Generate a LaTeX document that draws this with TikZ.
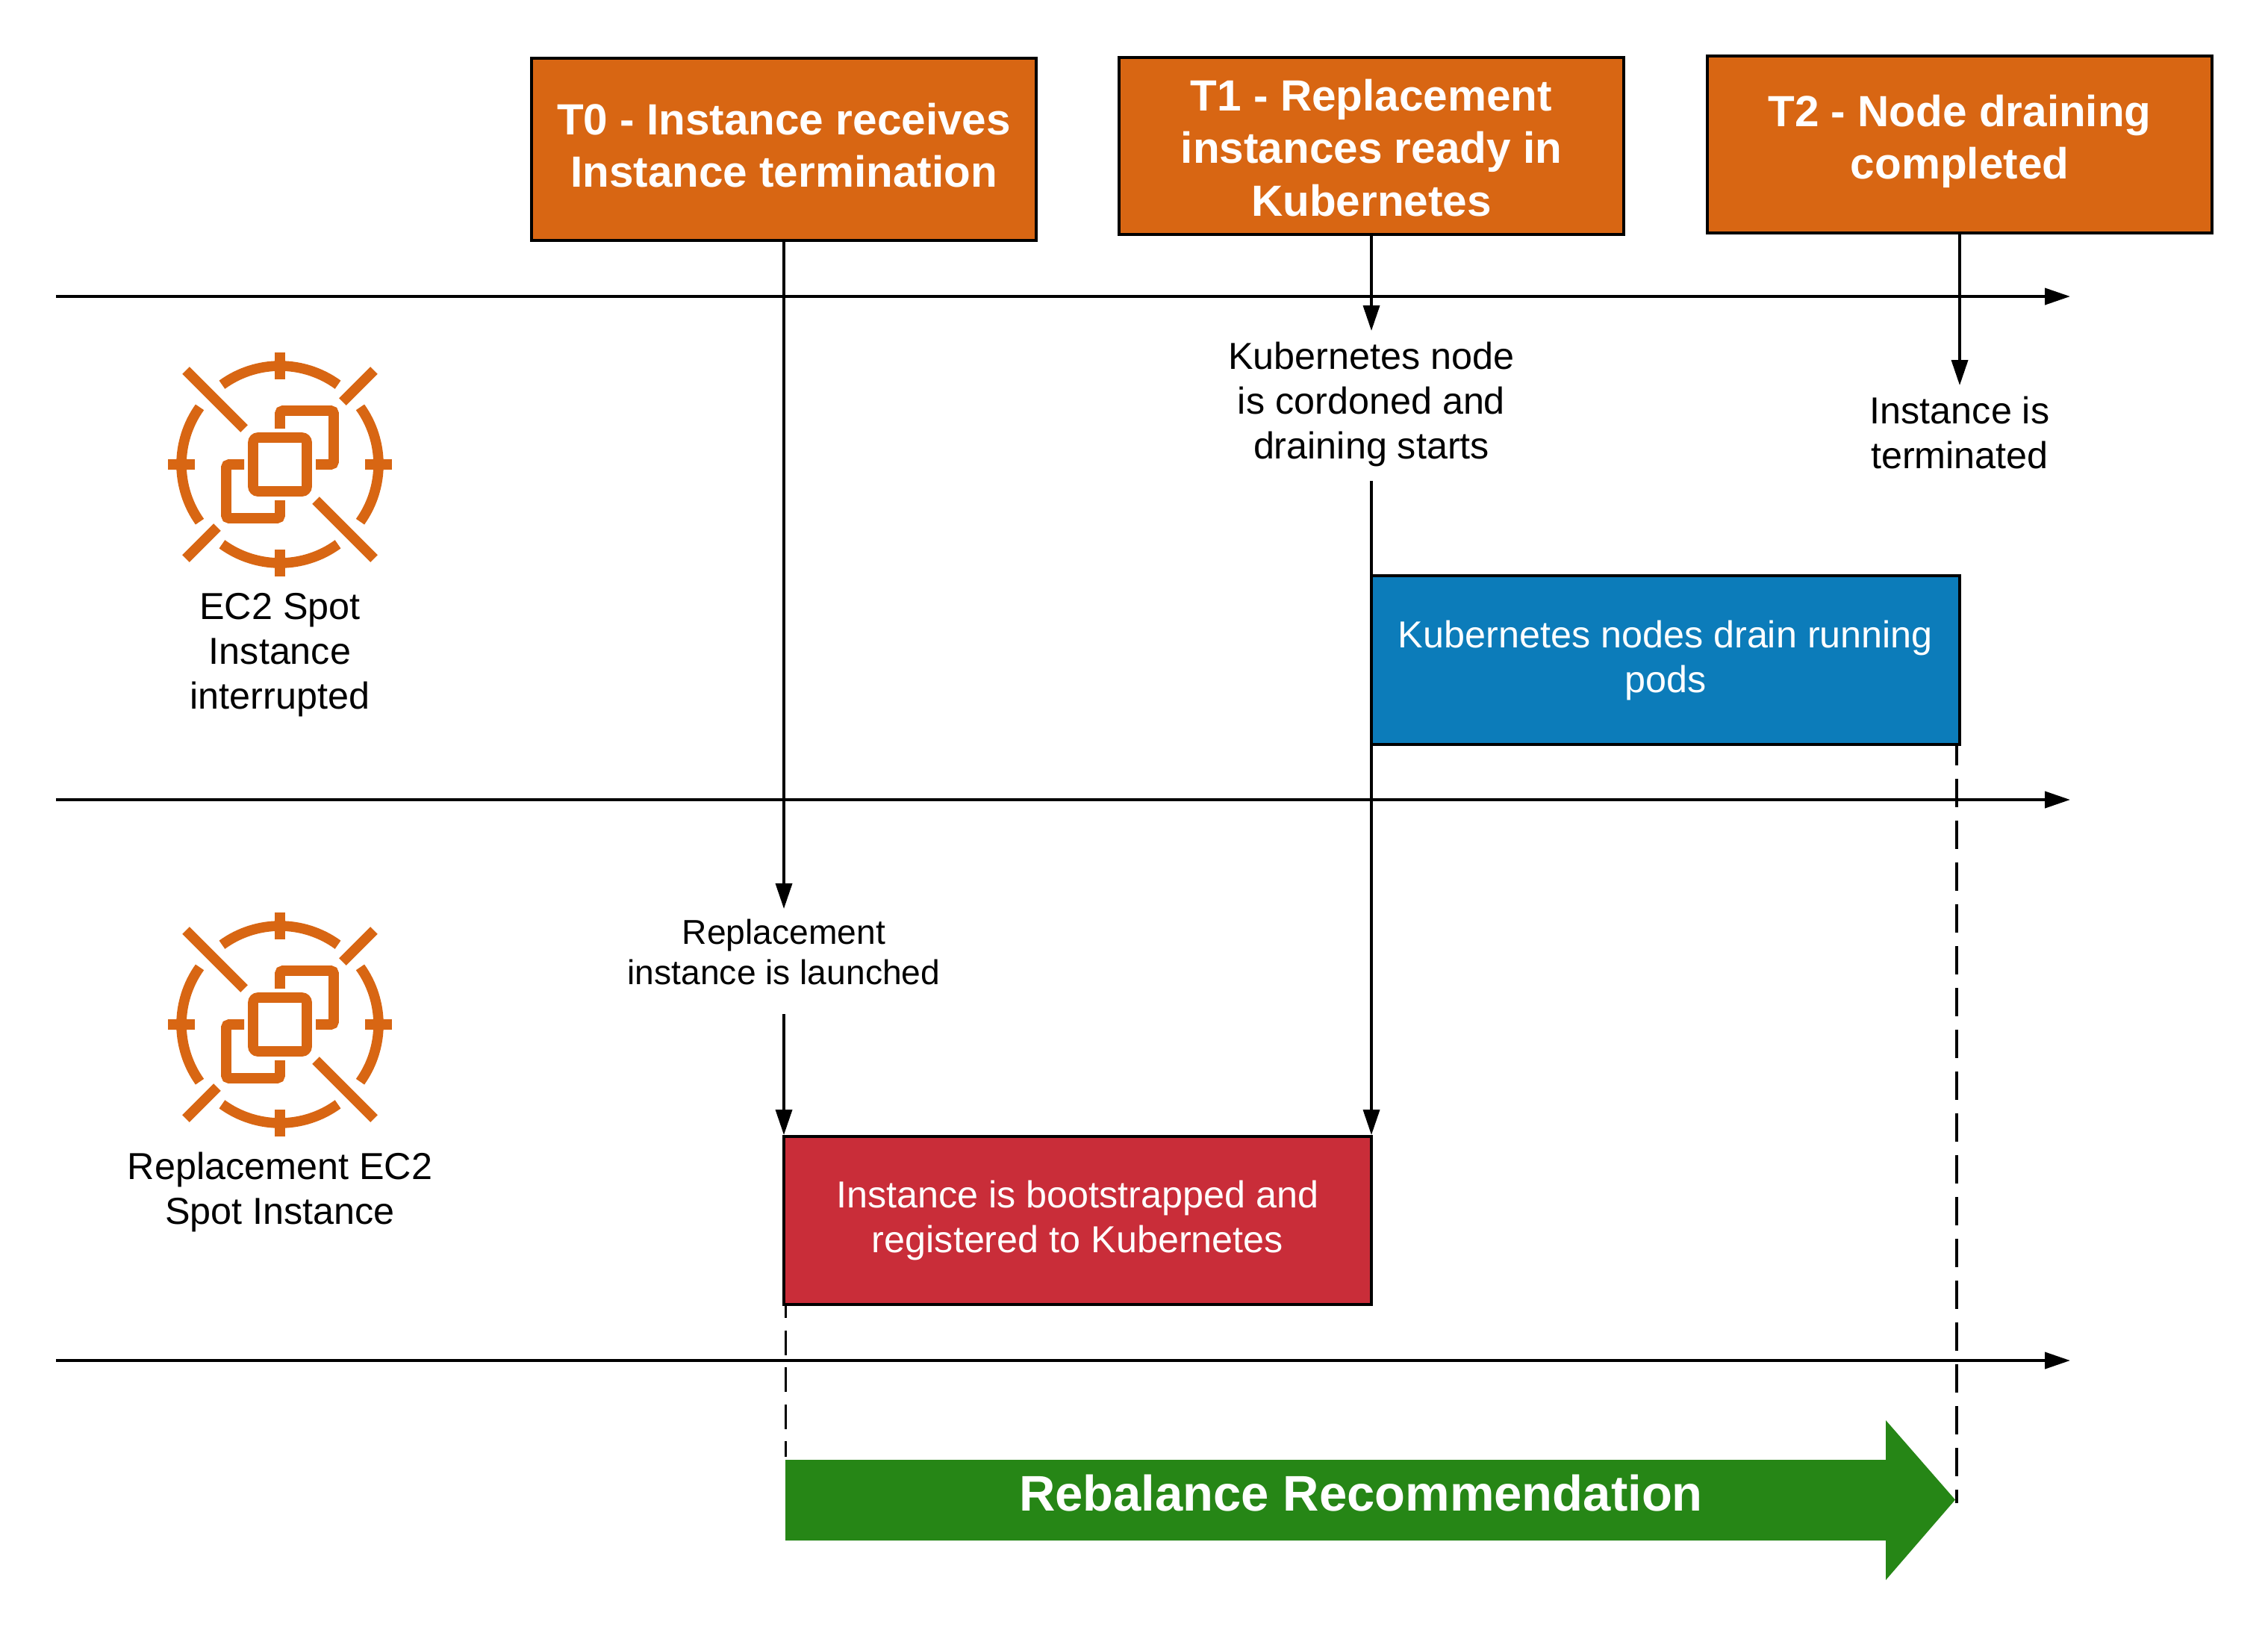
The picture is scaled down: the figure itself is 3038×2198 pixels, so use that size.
\documentclass[tikz,border=0pt]{standalone}
\usepackage{fontspec}
\setmainfont{Liberation Sans}
\usetikzlibrary{arrows.meta}
\definecolor{awsorange}{HTML}{D86613}
\definecolor{boxblue}{HTML}{0C7CBA}
\definecolor{boxred}{HTML}{C92D39}
\definecolor{boxgreen}{HTML}{268616}
\newcommand{\extradepth}[1]{\rule[-#1]{0pt}{0pt}}
\newcommand{\extraheight}[1]{\rule{0pt}{#1}}
\tikzset{
  x=0.25pt,y=-0.25pt,
  head/.style={draw=black,line width=1pt,fill=awsorange,text=white,inner sep=0pt,outer sep=0pt,align=center,
    minimum width=169pt,minimum height=61pt,font=\fontsize{14.62}{17.6}\selectfont\bfseries},
  phase/.style={draw=black,line width=1pt,text=white,inner sep=0pt,outer sep=0pt,align=center,
    font=\fontsize{12.58}{15}\selectfont},
  label/.style={inner sep=0pt,outer sep=0pt,align=center,font=\fontsize{12.58}{15}\selectfont},
  smalllabel/.style={inner sep=0pt,outer sep=0pt,align=center,font=\fontsize{11.55}{13.7}\selectfont},
  conn/.style={draw=black,line width=0.9pt},
  arr/.style={conn,-{Triangle[length=8.5pt,width=5.5pt]}},
  axisline/.style={draw=black,line width=1pt,-{Triangle[length=8.5pt,width=5.5pt]}},
  dashL/.style={draw=black,line width=0.75pt,dash pattern=on 8.25pt off 4.15pt},
  dashR/.style={draw=black,line width=1pt,dash pattern=on 9.5pt off 4.5pt},
  iconstroke/.style={draw=awsorange,line width=3.4pt},
  spot/.pic={
    \begin{scope}[x=0.25pt,y=0.25pt,iconstroke]
      \draw (126:132) arc[start angle=126,end angle=54,radius=132];
      \draw (-54:132) arc[start angle=-54,end angle=-126,radius=132];
      \draw (144.5:132) arc[start angle=144.5,end angle=215.5,radius=132];
      \draw (-35.5:132) arc[start angle=-35.5,end angle=35.5,radius=132];
      \draw (0,150) -- (0,114);
      \draw (0,-150) -- (0,-114);
      \draw (-150,0) -- (-114,0);
      \draw (150,0) -- (114,0);
      \draw (-126,126) -- (-48,48);
      \draw (126,-126) -- (48,-48);
      \draw (126,126) -- (84,84);
      \draw (-126,-126) -- (-84,-84);
      \draw[rounded corners=1.6pt] (-36,-36) rectangle (36,36);
      \draw[rounded corners=0.9pt] (0,48) -- (0,72) -- (72,72) -- (72,0) -- (48,0);
      \draw[rounded corners=0.9pt] (-48,0) -- (-72,0) -- (-72,-72) -- (0,-72) -- (0,-48);
    \end{scope}
  }
}
\begin{document}
\begin{tikzpicture}
\useasboundingbox (0,0) rectangle (3038,2198);
% coordinates for axis ends and free ends
\coordinate (a1s) at (75,397);  \coordinate (a1e) at (2773,397);
\coordinate (a2s) at (75,1071); \coordinate (a2e) at (2773,1071);
\coordinate (a3s) at (75,1822); \coordinate (a3e) at (2773,1822);
\coordinate (dl) at (1052.5,1951);
\coordinate (dr) at (2621,2013);
% header boxes
\node[head] (t0) at (1050,200) {T0 - Instance receives\\Instance termination\extradepth{3pt}};
\node[head,minimum height=59.25pt] (t1) at (1837,195.5) {\extraheight{11.7pt}T1 - Replacement\\instances ready in\\Kubernetes};
\node[head,minimum height=59.25pt] (t2) at (2625,193.5) {T2 - Node draining\\completed\extradepth{5pt}};
% phase boxes
\node[phase,fill=boxblue,minimum width=197pt,minimum height=56.5pt] (drain) at (2231,884) {Kubernetes nodes drain running\\pods};
\node[phase,fill=boxred,minimum width=196.75pt,minimum height=56.25pt] (boot) at (1443.5,1634.5) {Instance is bootstrapped and\\registered to Kubernetes};
% labels
\node[label,minimum height=48.5pt] (cordon) at (1837,541) {Kubernetes node\\is cordoned and\\draining starts};
\node[label,minimum height=31.5pt] (term) at (2625,579) {Instance is\\terminated};
\node[smalllabel,minimum height=29pt] (launch) at (1050,1275) {Replacement\\instance is launched};
\node[label] (spot1) at (375,877) {EC2 Spot\\Instance\\interrupted};
\node[label] (spot2) at (375,1596) {Replacement EC2\\Spot Instance};
% axes
\draw[axisline] (a1s) -- (a1e);
\draw[axisline] (a2s) -- (a2e);
\draw[axisline] (a3s) -- (a3e);
% connectors
\draw[arr] (t0.south) -- (launch.north);
\draw[conn,-{Triangle[length=8.5pt,width=5.5pt]},shorten <=6.25pt,shorten >=0.5pt] (launch.south) -- (boot.north west);
\draw[arr,shorten >=0.25pt] (t1.south) -- (cordon.north);
\draw[conn,-{Triangle[length=8.5pt,width=5.5pt]},shorten <=1.5pt,shorten >=0.5pt] (cordon.south) -- (boot.north east);
\draw[arr] (t2.south) -- (term.north);
% dashed guides
\draw[dashL,dash phase=3.75pt] (boot.south west -| dl) -- (dl);
\draw[dashR,dash phase=2.5pt] (drain.south east -| dr) -- (dr);
% icons
\pic at (375,622) {spot};
\pic at (375,1372) {spot};
% green arrow
\fill[boxgreen] (1052,1955) -- (2526,1955) -- (2526,1902) -- (2619,2008.5) -- (2526,2116) -- (2526,2063) -- (1052,2063) -- cycle;
\node[inner sep=0pt,text=white,font=\fontsize{16.75}{20}\selectfont\bfseries] (rebal) at (1823,2000) {Rebalance Recommendation};
\end{tikzpicture}
\end{document}
